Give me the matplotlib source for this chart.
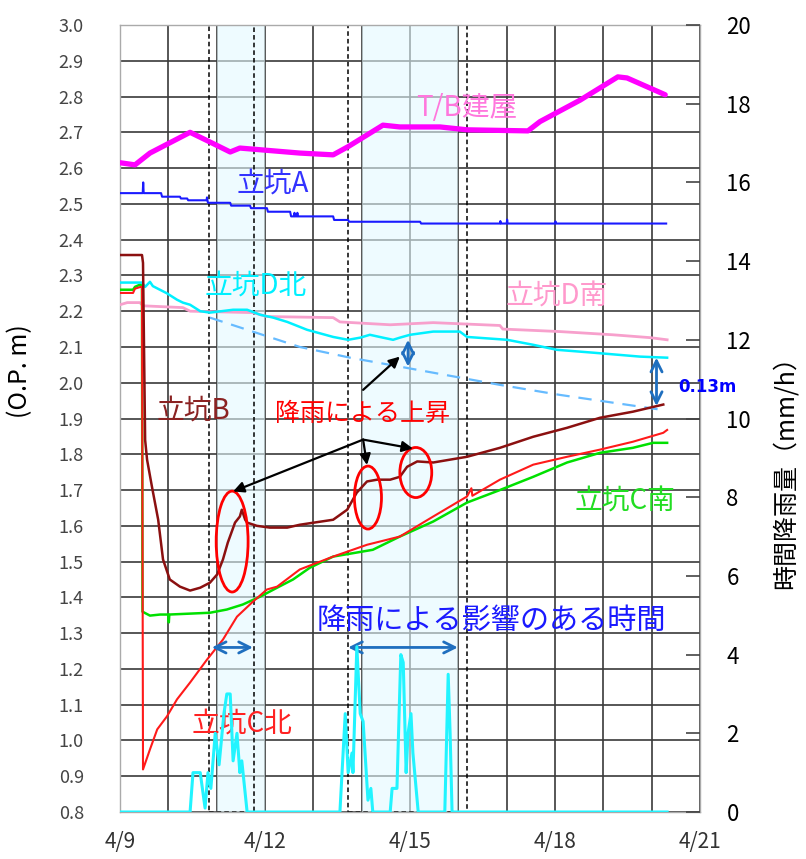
import matplotlib
matplotlib.use('Agg')
import matplotlib.pyplot as plt
from matplotlib.patches import Ellipse, Rectangle
import numpy as np

plt.rcParams['font.family'] = ['Noto Sans CJK JP', 'DejaVu Sans']

# ---------------- data (x = days since 4/9 00:00) ----------------
x_tick_pos = [0, 3, 6, 9, 12]
x_tick_labels = ['4/9', '4/12', '4/15', '4/18', '4/21']

tb_days = [0, 0.31, 0.62, 1.45, 1.86, 2.28, 2.48, 3.72, 4.41, 4.72, 5.44, 5.79, 6.62, 7.18, 8.44, 8.69, 9.52, 10.30, 10.49, 11.28]
tb_lvl = [2.615, 2.609, 2.642, 2.70, 2.673, 2.645, 2.656, 2.642, 2.637, 2.66, 2.72, 2.715, 2.715, 2.707, 2.704, 2.73, 2.79, 2.855, 2.852, 2.805]

a_days = [0, 0.47, 0.48, 0.49, 0.85, 0.87, 1.24, 1.26, 1.39, 1.41, 1.79, 1.80, 1.81, 1.82, 2.28, 2.30, 2.69, 2.71, 3.04, 3.06,
          3.52, 3.54, 3.60, 3.61, 3.62, 3.66, 3.67, 3.68, 4.41, 4.43, 4.72, 4.74, 6.21, 6.23, 7.86, 7.87, 7.88, 8.00, 8.01, 8.02, 9.0, 9.01, 9.02, 11.3]
a_lvl = [2.53, 2.53, 2.56, 2.53, 2.53, 2.52, 2.52, 2.515, 2.515, 2.51, 2.51, 2.518, 2.51, 2.503, 2.503, 2.495, 2.495, 2.488, 2.488, 2.478,
         2.478, 2.465, 2.465, 2.475, 2.465, 2.465, 2.475, 2.465, 2.465, 2.455, 2.455, 2.45, 2.45, 2.445, 2.445, 2.452, 2.445, 2.445, 2.456, 2.445, 2.445, 2.451, 2.445, 2.445]

dn_days = [0, 0.455, 0.52, 0.62, 0.68, 0.97, 1.18, 1.30, 1.45, 1.66, 1.86, 2.34, 2.63, 2.90, 3.17, 3.46, 3.87, 4.41, 4.72, 4.97, 5.17, 5.44,
           5.65, 5.79, 6.00, 6.48, 7.03, 7.18, 8.01, 8.55, 9.04, 9.79, 10.76, 11.32]
dn_lvl = [2.28, 2.28, 2.268, 2.282, 2.27, 2.25, 2.232, 2.224, 2.218, 2.20, 2.196, 2.204, 2.204, 2.19, 2.182, 2.17, 2.148, 2.128, 2.12, 2.126, 2.134, 2.126,
          2.12, 2.126, 2.134, 2.143, 2.143, 2.128, 2.12, 2.106, 2.092, 2.084, 2.073, 2.07]

ds_days = [0, 0.15, 0.41, 0.48, 1.30, 1.45, 2.75, 3.04, 4.41, 4.55, 5.59, 6.48, 7.86, 7.92, 9.10, 10.20, 10.97, 11.32]
ds_lvl = [2.218, 2.224, 2.224, 2.215, 2.21, 2.20, 2.196, 2.185, 2.182, 2.17, 2.162, 2.168, 2.16, 2.15, 2.143, 2.134, 2.126, 2.12]

b_days = [0, 0.455, 0.476, 0.52, 0.56, 0.66, 0.79, 0.89, 1.03, 1.24, 1.45, 1.66, 1.86, 2.01, 2.13, 2.23, 2.38, 2.48, 2.52, 2.59, 2.63, 2.83,
          3.10, 3.46, 3.72, 4.41, 4.70, 4.90, 5.11, 5.32, 5.59, 5.79, 5.94, 6.15, 6.48, 7.18, 7.86, 8.55, 9.25, 9.93, 10.61, 11.24]
b_lvl = [2.357, 2.357, 2.335, 1.84, 1.785, 1.71, 1.617, 1.506, 1.45, 1.43, 1.419, 1.427, 1.441, 1.464, 1.506, 1.553, 1.609, 1.626, 1.645, 1.617, 1.609, 1.60,
         1.595, 1.595, 1.603, 1.617, 1.645, 1.693, 1.724, 1.729, 1.729, 1.737, 1.765, 1.78, 1.777, 1.793, 1.818, 1.849, 1.874, 1.902, 1.919, 1.939]

cn_days = [0, 0.27, 0.31, 0.43, 0.455, 0.476, 0.62, 0.77, 0.97, 1.18, 1.45, 1.80, 2.13, 2.42, 2.75, 3.04, 3.25, 3.72, 4.41, 5.11, 5.79,
           6.48, 7.18, 7.27, 7.29, 7.86, 8.55, 9.25, 9.93, 10.61, 11.24, 11.32]
cn_lvl = [2.251, 2.251, 2.263, 2.268, 2.268, 0.919, 0.975, 1.031, 1.067, 1.115, 1.162, 1.226, 1.282, 1.346, 1.388, 1.422, 1.43, 1.478, 1.514, 1.547, 1.57,
          1.626, 1.682, 1.705, 1.684, 1.729, 1.771, 1.793, 1.813, 1.835, 1.86, 1.868]

cs_days = [0, 0.27, 0.31, 0.41, 0.455, 0.465, 0.62, 0.83, 1.00, 1.01, 1.02, 1.86, 2.21, 2.54, 2.90, 3.25, 3.58, 3.93, 4.41, 5.23, 5.79,
           6.48, 7.18, 7.86, 8.55, 9.25, 9.93, 10.61, 11.03, 11.32]
cs_lvl = [2.26, 2.26, 2.268, 2.274, 2.274, 1.36, 1.349, 1.352, 1.352, 1.33, 1.352, 1.357, 1.366, 1.38, 1.402, 1.427, 1.45, 1.483, 1.514, 1.533, 1.57,
          1.612, 1.665, 1.70, 1.737, 1.777, 1.804, 1.818, 1.832, 1.832]

trend_days = [1.86, 3.72, 4.76, 5.79, 7.86, 9.10, 11.17]
trend_lvl = [2.182, 2.10, 2.07, 2.045, 1.994, 1.966, 1.925]

rain_days = [0, 1.45, 1.51, 1.66, 1.76, 1.82, 1.88, 1.97, 2.05, 2.15, 2.21, 2.28, 2.34, 2.42, 2.48, 2.52, 2.63,
             4.55, 4.66, 4.72, 4.80, 4.82, 4.90, 4.97, 5.03, 5.13, 5.19, 5.23, 5.59, 5.63, 5.73, 5.81, 5.86, 5.92, 5.96,
             6.02, 6.06, 6.17, 6.72, 6.79, 6.83, 6.87, 11.32]
rain_mmh = [0, 0, 1.0, 1.0, 0.1, 1.0, 0.6, 2.0, 1.2, 2.5, 3.0, 3.0, 1.3, 2.0, 1.0, 1.3, 0,
            0, 2.5, 1.0, 1.5, 1.0, 4.2, 2.5, 2.3, 0.3, 0.6, 0, 0, 0.6, 0.6, 4.0, 3.8, 1.0, 2.0,
            2.5, 1.5, 0, 0, 3.5, 2.0, 0, 0]

shade_spans = [(2, 3), (5, 7)]
rain_windows = [(1.84, 2.77), (4.72, 7.18)]

# ---------------- figure ----------------
fig = plt.figure(figsize=(8.06, 8.59), dpi=100)
ax = fig.add_axes([120/806, 1-812/859, 580/806, 787/859])
ax.set_xlim(0, 12)
ax.set_ylim(0.8, 3.0)
ax.set_xticks(x_tick_pos)
ax.set_xticklabels(x_tick_labels)
ax.set_xticks(np.arange(0, 13, 1), minor=True)
ax.set_yticks(np.round(np.arange(0.8, 3.001, 0.1), 1))
ax.set_yticklabels(['%.1f' % v for v in np.arange(0.8, 3.001, 0.1)])
ax.grid(True, which='both', axis='x', color='#3a3a3a', lw=1.2, zorder=1)
ax.grid(True, which='major', axis='y', color='#3a3a3a', lw=1.2, zorder=1)
ax.set_axisbelow(True)
ax.tick_params(axis='y', length=0, pad=26, labelsize=13, labelcolor='#444444')
ax.tick_params(axis='x', which='both', length=0, pad=14, labelsize=15, labelcolor='#333333')
for s in ax.spines.values():
    s.set_color('#aaaaaa')
    s.set_linewidth(1)

for a, b in shade_spans:
    ax.axvspan(a, b, facecolor='#e4f9ff', alpha=0.6, zorder=1.5, lw=0)
for a, b in rain_windows:
    ax.add_patch(Rectangle((a, 0.8), b - a, 2.2, fill=False, ec='black', lw=1.1,
                           ls=(0, (3, 2)), zorder=2))

ax.plot(trend_days, trend_lvl, color='#66bbff', lw=1.6, ls=(0, (6, 4)), zorder=3)
ax.plot(ds_days, ds_lvl, color='#f7a0cc', lw=2, zorder=3)
ax.plot(dn_days, dn_lvl, color='#00f0ff', lw=1.8, zorder=3.2)
ax.plot(a_days, a_lvl, color='#1a1aff', lw=1.5, zorder=3)
ax.plot(tb_days, tb_lvl, color='#ff00ff', lw=3.8, zorder=3, solid_capstyle='round')
ax.plot(cs_days, cs_lvl, color='#00e000', lw=1.8, zorder=3)
ax.plot(cn_days, cn_lvl, color='#ff1a1a', lw=1.5, zorder=3.1)
ax.plot(b_days, b_lvl, color='#8b1010', lw=1.8, zorder=3.2)

ax2 = ax.twinx()
ax2.set_ylim(0, 20)
ax2.set_yticks(range(0, 21, 2))
ax2.tick_params(axis='y', direction='in', length=10, width=1.2, color='#444444',
                pad=19, labelsize=16)
for s in ax2.spines.values():
    s.set_visible(False)
ax2.plot(rain_days, rain_mmh, color='#22f4ff', lw=2.2, zorder=4)

ax.set_ylabel('(O.P. m)', fontsize=18, labelpad=8)
ax.yaxis.set_label_coords(-0.15, 0.56)
ax2.set_ylabel('時間降雨量（mm/h）', fontsize=18, labelpad=4)
ax2.yaxis.set_label_coords(1.125, 0.44)

# ---------------- annotations ----------------
lab = dict(ha='center', va='center', fontsize=20, zorder=6)
ax.text(7.18, 2.768, 'T/B建屋', color='#ff77dd', **lab)
ax.text(3.15, 2.556, '立坑A', color='#3333ff', **lab)
ax.text(2.81, 2.271, '立坑D北', color='#00f0ff', **lab)
ax.text(9.04, 2.240, '立坑D南', color='#ff99cc', **lab)
ax.text(1.51, 1.922, '立坑B', color='#8b2323', **lab)
ax.text(10.45, 1.668, '立坑C南', color='#22dd22', **lab)
ax.text(2.52, 1.047, '立坑C北', color='#ff2222', **lab)
ax.text(5.01, 1.913, '降雨による上昇', color='#ff0000', ha='center', va='center', fontsize=18, zorder=6)
ax.text(7.68, 1.333, '降雨による影響のある時間', color='#1a1aff', ha='center', va='center', fontsize=21, zorder=6)
ax.text(12.15, 1.989, '0.13m', color='#0000ff', ha='center', va='center', fontsize=12,
        fontweight='bold', family='DejaVu Sans', zorder=6, clip_on=False)

for cx, cy, w, h in [(2.32, 1.556, 0.66, 0.282), (5.13, 1.679, 0.56, 0.176), (6.12, 1.749, 0.66, 0.14)]:
    ax.add_patch(Ellipse((cx, cy), w, h, fill=False, ec='#ff0000', lw=2, zorder=5))

blk = dict(arrowstyle='-|>', color='black', lw=1.6, mutation_scale=16, shrinkA=0, shrinkB=0)
for hx, hy in [(2.34, 1.696), (5.11, 1.77), (6.06, 1.816)]:
    ax.annotate('', xy=(hx, hy), xytext=(5.03, 1.841), arrowprops=blk, zorder=6)
ax.annotate('', xy=(5.79, 2.073), xytext=(5.03, 1.98), arrowprops=blk, zorder=6)

dbl = dict(arrowstyle='<->', color='#1f6fbf', lw=2, mutation_scale=20, shrinkA=0, shrinkB=0)
ax.annotate('', xy=(5.96, 2.12), xytext=(5.96, 2.045), arrowprops=dbl, zorder=6)
ax.annotate('', xy=(11.1, 2.07), xytext=(11.1, 1.935), arrowprops=dbl, zorder=6)
ax.annotate('', xy=(1.90, 1.26), xytext=(2.75, 1.26), arrowprops=dbl, zorder=6)
ax.annotate('', xy=(4.72, 1.26), xytext=(6.99, 1.26), arrowprops=dbl, zorder=6)

fig.savefig('out.png', dpi=100)
